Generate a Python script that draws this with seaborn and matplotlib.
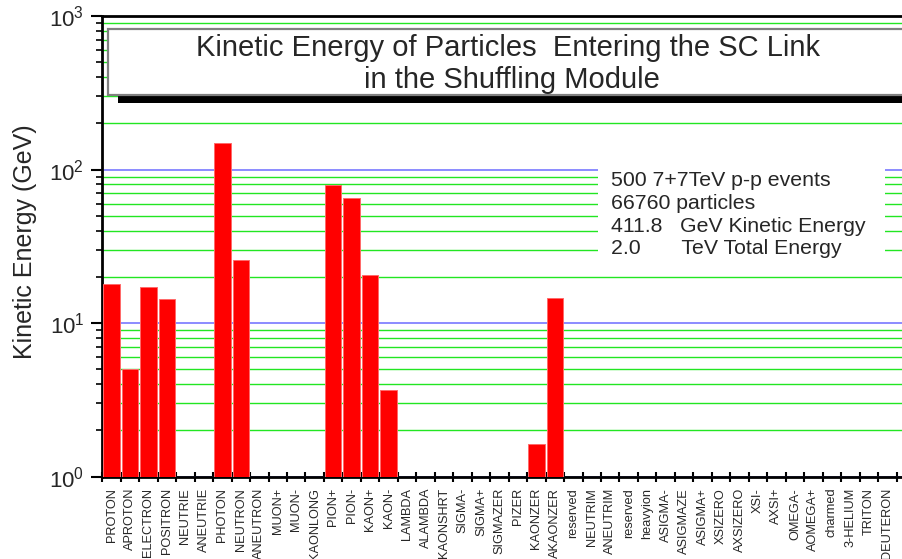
import numpy as np
import pandas as pd
import matplotlib
matplotlib.use("Agg")
import matplotlib.pyplot as plt
import seaborn as sns
from matplotlib.patches import Rectangle
from matplotlib.ticker import FixedLocator, FuncFormatter, LogLocator, NullFormatter

particles = ["PROTON", "APROTON", "ELECTRON", "POSITRON", "NEUTRIE", "ANEUTRIE",
             "PHOTON", "NEUTRON", "ANEUTRON", "MUON+", "MUON-", "KAONLONG",
             "PION+", "PION-", "KAON+", "KAON-", "LAMBDA", "ALAMBDA", "KAONSHRT",
             "SIGMA-", "SIGMA+", "SIGMAZER", "PIZER", "KAONZER", "AKAONZER",
             "reserved", "NEUTRIM", "ANEUTRIM", "reserved", "heavyion", "ASIGMA-",
             "ASIGMAZE", "ASIGMA+", "XSIZERO", "AXSIZERO", "XSI-", "AXSI+",
             "OMEGA-", "AOMEGA+", "charmed", "3-HELIUM", "TRITON", "DEUTERON"]
energy_gev = [18.0, 5.04, 17.3, 14.4, 0, 0,
              149.0, 25.9, 0, 0, 0, 0,
              79.0, 65.5, 20.7, 3.68, 0, 0, 0,
              0, 0, 0, 0, 1.64, 14.6,
              0, 0, 0, 0, 0, 0,
              0, 0, 0, 0, 0, 0,
              0, 0, 0, 0, 0, 0]
title_lines = ["Kinetic Energy of Particles  Entering the SC Link", "in the Shuffling Module"]
info_lines = ["500 7+7TeV p-p events", "66760 particles",
              "411.8   GeV Kinetic Energy", "2.0       TeV Total Energy"]

sns.set_theme(style="ticks")
plt.rcParams["font.family"] = ["Liberation Sans", "DejaVu Sans"]
plt.rcParams["mathtext.fontset"] = "custom"
plt.rcParams["mathtext.rm"] = "Liberation Sans"
plt.rcParams["mathtext.it"] = "Liberation Sans"

W, H = 902, 559
fig = plt.figure(figsize=(W / 100, H / 100), dpi=100)
fig.patch.set_facecolor("white")

def fx(px):
    return px / W

def fy(py):
    return 1 - py / H

left, right, top, bottom = 102.3, 902.0, 16.0, 476.7
ax = fig.add_axes([fx(left), fy(bottom), fx(right) - fx(left), fy(top) - fy(bottom)])

n = len(particles)
df = pd.DataFrame({"idx": np.arange(n), "energy": energy_gev})
sns.barplot(data=df, x="idx", y="energy", color="#ff0000", saturation=1,
            width=0.9, edgecolor="#ff6a6a", linewidth=0.7, ax=ax, zorder=3)

ax.set_yscale("log")
ax.set_ylim(1, 1000)
spacing = 18.47
ax.set_xlim(-0.5, -0.5 + (right - left) / spacing)

# grid
ax.yaxis.set_major_locator(LogLocator(base=10, numticks=10))
ax.yaxis.set_minor_locator(LogLocator(base=10, subs=np.arange(2, 10), numticks=20))
ax.yaxis.set_minor_formatter(NullFormatter())
ax.yaxis.set_major_formatter(FuncFormatter(lambda v, p: r"$\mathregular{10^{%d}}$" % int(round(np.log10(v)))))
ax.grid(False)
ax.yaxis.grid(True, which="major", color="#7878ff", linewidth=1.2, zorder=0)
ax.yaxis.grid(True, which="minor", color="#22e622", linewidth=1.0, zorder=0)
ax.set_axisbelow(True)

# x ticks: marks at boundaries, labels at centres
ax.xaxis.set_major_locator(FixedLocator(np.arange(n + 1) - 0.5))
ax.xaxis.set_major_formatter(NullFormatter())
ax.set_xticks(np.arange(n), minor=True)
ax.set_xticklabels(particles, minor=True, rotation=90, fontsize=9.2, va="top", ha="center")
ax.tick_params(axis="x", which="major", direction="inout", length=7, width=1.5, color="black")
ax.tick_params(axis="x", which="minor", length=0, pad=8)
ax.tick_params(axis="y", which="major", direction="out", length=8, width=1.5, labelsize=16, pad=5, color="black")
ax.tick_params(axis="y", which="minor", direction="out", length=4, width=1.2, color="black")

ax.set_xlabel("")
ax.set_ylabel("")
for s in ["left", "top", "bottom"]:
    ax.spines[s].set_linewidth(2)
    ax.spines[s].set_color("black")
ax.spines["right"].set_visible(False)

fig.text(fx(25), fy(242), "Kinetic Energy (GeV)", rotation=90, ha="center", va="center", fontsize=18)

# title box with shadow
bx0, by0, bx1, by1 = 108.3, 29.3, 915, 95.0
shadow = Rectangle((fx(bx0 + 9.5), fy(by1 + 7.5)), fx(bx1) - fx(bx0), fy(by0) - fy(by1),
                   transform=fig.transFigure, facecolor="black", edgecolor="none", zorder=10)
box = Rectangle((fx(bx0), fy(by1)), fx(bx1) - fx(bx0), fy(by0) - fy(by1),
                transform=fig.transFigure, facecolor="white", edgecolor="#808080",
                linewidth=1.6, zorder=11)
fig.patches.extend([shadow, box])
fig.text(fx(508), fy(48.5), title_lines[0], ha="center", va="center", fontsize=21, zorder=12)
fig.text(fx(512), fy(79.5), title_lines[1], ha="center", va="center", fontsize=21, zorder=12)

# info box
info_bg = Rectangle((fx(598), fy(263)), fx(885) - fx(598), fy(165) - fy(263),
                    transform=fig.transFigure, facecolor="white", edgecolor="none", zorder=10)
fig.patches.append(info_bg)
for i, line in enumerate(info_lines):
    fig.text(fx(611), fy(181 + 22.5 * i), line, ha="left", va="center", fontsize=15.3, zorder=12)

fig.savefig("out.png", dpi=100)
